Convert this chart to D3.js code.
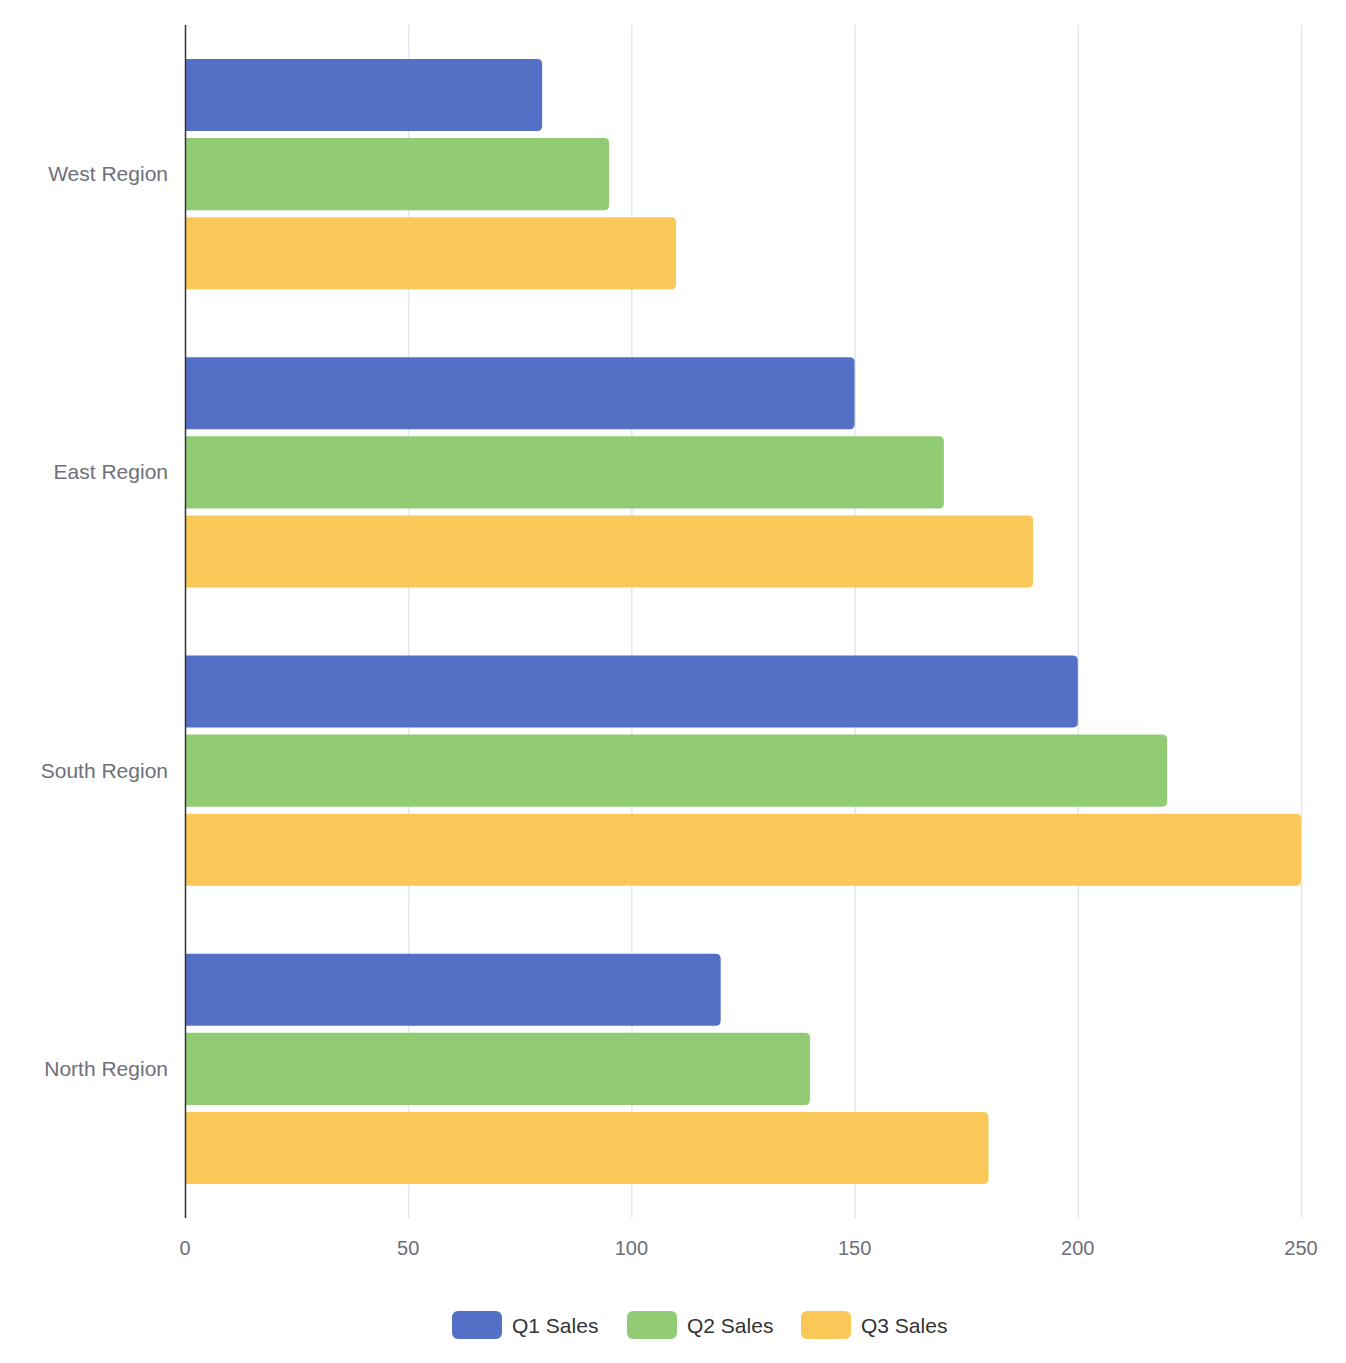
<!DOCTYPE html>
<html>
<head>
<meta charset="utf-8">
<script src="https://cdn.jsdelivr.net/npm/d3@7"></script>
<style>
  body { margin: 0; background: #fff; }
  text { font-family: "Liberation Sans", Arial, sans-serif; }
</style>
</head>
<body>
<svg id="chart" width="1346" height="1363"></svg>
<script>
const categories = ["West Region", "East Region", "South Region", "North Region"]
const seriesNames = ["Q1 Sales", "Q2 Sales", "Q3 Sales"]
const q1 = [80, 150, 200, 120]
const q2 = [95, 170, 220, 140]
const q3 = [110, 190, 250, 180]
const xTicks = [0, 50, 100, 150, 200, 250]
const colors = ["#5470c6", "#91cc75", "#fac858"]

const series = [q1, q2, q3]
const margin = {left: 185, right: 45, top: 25, bottom: 145}
const width = 1346, height = 1363

let svg = d3.select("#chart")

let x = d3.scaleLinear().domain([0, 250]).range([margin.left, width - margin.right])
let y = d3.scaleBand().domain(categories).range([margin.top, height - margin.bottom])

// inner band for the three series inside a category
let inner = d3.scaleBand().domain(seriesNames)
  .range([34, y.bandwidth() - 34]).paddingInner(0.09)

// grid lines
svg.append("g").selectAll("line").data(xTicks.slice(1)).join("line")
  .attr("x1", d => x(d) + 0.5).attr("x2", d => x(d) + 0.5)
  .attr("y1", margin.top).attr("y2", height - margin.bottom)
  .style("stroke", "#e0e6f1").style("stroke-width", 1.5)

// x tick labels
svg.append("g").selectAll("text").data(xTicks).join("text")
  .attr("x", d => x(d)).attr("y", height - margin.bottom + 37)
  .attr("text-anchor", "middle")
  .style("font-size", "20px").style("fill", "#6e7079")
  .text(d => d)

// bars with rounded right end
function barPath(x0, x1, y0, h, r) {
  r = Math.min(r, x1 - x0)
  return `M${x0},${y0}H${x1 - r}Q${x1},${y0} ${x1},${y0 + r}V${y0 + h - r}Q${x1},${y0 + h} ${x1 - r},${y0 + h}H${x0}Z`
}

series.forEach((vals, si) => {
  svg.append("g").selectAll("path").data(vals).join("path")
    .attr("d", (d, i) => barPath(x(0), x(d), y(categories[i]) + inner(seriesNames[si]), inner.bandwidth(), 5))
    .style("fill", colors[si])
})

// y axis line
svg.append("line")
  .attr("x1", x(0) + 0.5).attr("x2", x(0) + 0.5)
  .attr("y1", margin.top).attr("y2", height - margin.bottom)
  .style("stroke", "#333").style("stroke-width", 1.5)

// category labels
svg.append("g").selectAll("text").data(categories).join("text")
  .attr("x", x(0) - 17).attr("y", d => y(d) + y.bandwidth() / 2 + 7)
  .attr("text-anchor", "end")
  .style("font-size", "21px").style("fill", "#6e7079")
  .text(d => d)

// legend
let legendX = [452, 627, 801]
let legend = svg.append("g").selectAll("g").data(seriesNames).join("g")
  .attr("transform", (d, i) => "translate(" + legendX[i] + "," + 1311 + ")")
legend.append("rect")
  .attr("width", 50).attr("height", 28).attr("rx", 6)
  .style("fill", (d, i) => colors[i])
legend.append("text")
  .attr("x", 60).attr("y", 22)
  .style("font-size", "21px").style("fill", "#333")
  .text(d => d)
</script>
</body>
</html>
